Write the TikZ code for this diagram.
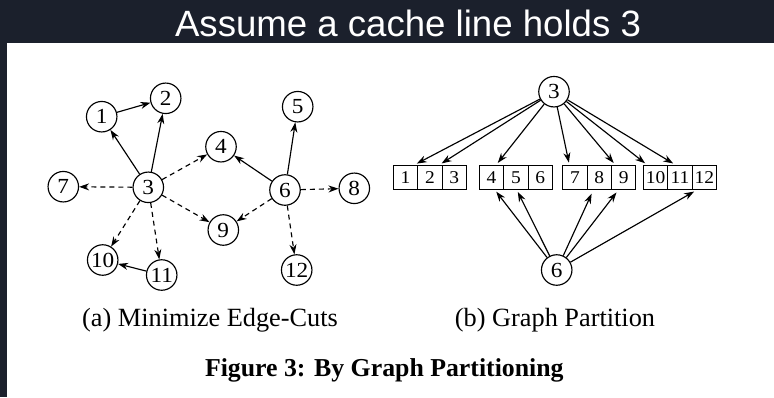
\documentclass[tikz,border=0pt]{standalone}
\usepackage{fontspec}
\setmainfont{Liberation Serif}
\newfontfamily\titlefont{Liberation Sans}
\newfontfamily\widefont[FakeStretch=1.08]{Liberation Serif}
\usetikzlibrary{arrows.meta}
\definecolor{bgdark}{RGB}{27,32,44}
\tikzset{
  vtx/.style={circle,draw,line width=1.15pt,minimum size=30.5pt,inner sep=0pt,
    font=\widefont\fontsize{21.5}{21.5}\selectfont},
  cell/.style={rectangle,draw,line width=1.05pt,minimum width=24.4pt,minimum height=24.5pt,
    inner sep=0pt,font=\widefont\fontsize{18}{18}\selectfont},
  arr/.style={line width=1.15pt,-{Stealth[length=10pt,width=7pt]}},
  darr/.style={arr,dash pattern=on 5pt off 4pt},
  captext/.style={anchor=base,font=\fontsize{26.3}{26.3}\selectfont},
}
\begin{document}
\begin{tikzpicture}[x=1pt,y=-1pt]
\useasboundingbox (0,0) rectangle (774,397);
\fill[bgdark] (0,0) rectangle (774,397);
\fill[white] (7,43.3) rectangle (774,397);
\node[anchor=base,text=white,inner sep=0pt,font=\titlefont\fontsize{36.6}{36.6}\selectfont] (title) at (408,36) {Assume a cache line holds 3};
% (a) graph
\node[vtx] (n1) at (101.7,116.7) {1};
\node[vtx] (n2) at (165.7,98.3) {2};
\node[vtx] (n3) at (148.3,187.3) {3};
\node[vtx] (n4) at (221,146.7) {4};
\node[vtx] (n5) at (297.7,106.7) {5};
\node[vtx] (n6) at (285,190) {6};
\node[vtx] (n7) at (63.3,186.7) {7};
\node[vtx] (n8) at (354.3,188.3) {8};
\node[vtx] (n9) at (223.3,230) {9};
\node[vtx] (n10) at (102.7,260) {10};
\node[vtx] (n11) at (161.7,275) {11};
\node[vtx] (n12) at (296.7,270) {12};
\draw[arr] (n1) -- (n2);
\draw[arr] (n3) -- (n1);
\draw[arr] (n3) -- (n2);
\draw[arr] (n11) -- (n10);
\draw[arr] (n6) -- (n4);
\draw[arr] (n6) -- (n5);
\draw[darr] (n3) -- (n7);
\draw[darr] (n3) -- (n4);
\draw[darr] (n3) -- (n9);
\draw[darr] (n3) -- (n10);
\draw[darr] (n3) -- (n11);
\draw[darr] (n6) -- (n8);
\draw[darr] (n6) -- (n9);
\draw[darr] (n6) -- (n12);
% (b) partition
\node[vtx] (r3) at (554,91.7) {3};
\node[vtx] (r6) at (556.7,270) {6};
\node[cell] (c1) at (405.5,177.3) {1};
\node[cell] (c2) at (429.9,177.3) {2};
\node[cell] (c3) at (454.3,177.3) {3};
\node[cell] (c4) at (491.5,177.3) {4};
\node[cell] (c5) at (515.9,177.3) {5};
\node[cell] (c6) at (540.3,177.3) {6};
\node[cell] (c7) at (574.9,177.3) {7};
\node[cell] (c8) at (599.3,177.3) {8};
\node[cell] (c9) at (623.7,177.3) {9};
\node[cell] (c10) at (655.5,177.3) {10};
\node[cell] (c11) at (679.9,177.3) {11};
\node[cell] (c12) at (704.3,177.3) {12};
\draw[arr,shorten >=2pt] (r3) -- ([xshift=9.5pt]c1.north);
\draw[arr,shorten >=2pt] (r3) -- ([xshift=10pt]c2.north);
\draw[arr,shorten >=2pt] (r3) -- ([xshift=5pt]c4.north);
\draw[arr,shorten >=2pt] (r3) -- ([xshift=-5.6pt]c7.north);
\draw[arr,shorten >=2pt] (r3) -- ([xshift=-8.7pt]c9.north);
\draw[arr,shorten >=2pt] (r3) -- ([xshift=-8.8pt]c10.north);
\draw[arr,shorten >=2pt] (r3) -- ([xshift=-5pt]c11.north);
\draw[arr,shorten >=2pt] (r6) -- ([xshift=3.5pt]c4.south);
\draw[arr,shorten >=2pt] (r6) -- ([xshift=1pt]c5.south);
\draw[arr,shorten >=4pt] (r6) -- ([xshift=-6pt]c8.south);
\draw[arr,shorten >=3pt] (r6) -- ([xshift=-5.4pt]c9.south);
\draw[arr,shorten >=3pt] (r6) -- ([xshift=-7.6pt]c12.south);
% captions
\node[captext,inner sep=0pt] (capa) at (210,326) {(a) Minimize Edge-Cuts};
\node[captext,inner sep=0pt] (capb) at (555,326) {(b) Graph Partition};
\node[anchor=base,inner sep=0pt,font=\bfseries\fontsize{25.8}{25.8}\selectfont] (fig) at (384.3,376.7) {Figure 3: By Graph Partitioning};
\end{tikzpicture}
\end{document}
